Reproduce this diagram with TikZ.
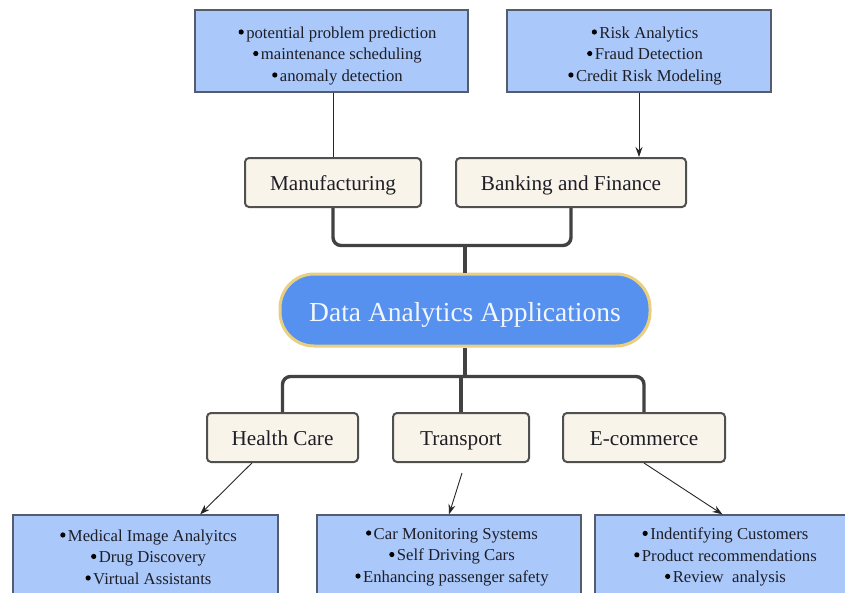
\documentclass[tikz,border=0pt]{standalone}
\usepackage{fontspec}
\setmainfont{Liberation Serif}
\usetikzlibrary{arrows.meta,calc}

\definecolor{listfill}{RGB}{170,201,250}
\definecolor{listedge}{RGB}{85,92,110}
\definecolor{catfill}{RGB}{249,244,233}
\definecolor{catedge}{RGB}{80,80,80}
\definecolor{hubfill}{RGB}{86,145,240}
\definecolor{hubedge}{RGB}{232,208,128}
\definecolor{trunk}{RGB}{66,66,66}
\definecolor{inktext}{RGB}{30,30,40}

% round list marker; \bulshift nudges each centred line to the right
\newlength\bulshift
\newcommand\bul{\kern\bulshift\tikz[x=1pt,y=1pt,baseline=0pt]\fill[black] (2.6,6.2) circle[radius=2.6];\kern2.5pt}
% extra head room above the first line of a list
\newcommand\headroom{\rule{0pt}{21pt}}

\tikzset{
  listbox/.style={draw=listedge, line width=1.2pt, fill=listfill, inner sep=0pt,
    align=center, text=inktext,
    font=\fontsize{16.7}{21.5}\selectfont},
  toplist/.style={listbox, minimum height=82pt,
    execute at begin node={\setlength\bulshift{12pt}}},
  lowlist/.style={listbox, minimum height=84pt,
    execute at begin node={\setlength\bulshift{6pt}}},
  catbox/.style={draw=catedge, line width=2pt, fill=catfill, rounded corners=4pt,
    inner sep=0pt, minimum height=49pt, text=inktext,
    text height=20pt, text depth=4pt,
    font=\fontsize{21.2}{25}\selectfont},
  hub/.style={draw=hubedge, line width=3pt, fill=hubfill, rounded corners=34pt,
    inner sep=0pt, minimum width=370pt, minimum height=72pt,
    text height=28pt, text depth=6pt,
    text={rgb,255:red,242;green,246;blue,255},
    font=\fontsize{27.5}{32}\selectfont},
  branch/.style={draw=trunk, line width=3.4pt, rounded corners=8pt},
  pointer/.style={draw=black!85, line width=0.9pt,
    -{Stealth[length=10pt,width=7pt]}},
}

\begin{document}
\begin{tikzpicture}[x=1pt,y=-1pt]
  \useasboundingbox (0,0) rectangle (845,592);
  \clip (0,0) rectangle (845,592);
  \fill[white] (0,0) rectangle (845,592);

  % central topic
  \node[hub] (hub) at (465,310) {Data Analytics Applications};

  % upper branch
  \node[catbox, minimum width=176pt] (manu) at (333,182.5) {Manufacturing};
  \node[catbox, minimum width=230pt] (bank) at (571,182.5) {Banking and Finance};

  \node[toplist, minimum width=273pt] (manulist) at (331.5,51)
    {\headroom\bul potential problem prediction\\ \bul maintenance scheduling\\ \bul anomaly detection};
  \node[toplist, minimum width=264pt] (banklist) at (639,51)
    {\headroom\bul Risk Analytics\\ \bul Fraud Detection\\ \bul Credit Risk Modeling};

  % lower branch
  \node[catbox, minimum width=151pt] (health) at (282.5,437.5) {Health Care};
  \node[catbox, minimum width=136pt] (trans) at (461,437.5) {Transport};
  \node[catbox, minimum width=162pt] (ecom) at (644,437.5) {E-commerce};

  \node[lowlist, minimum width=265pt] (healthlist) at (145.5,557)
    {\bul Medical Image Analyitcs\\ \bul Drug Discovery\\ \bul Virtual Assistants};
  \node[lowlist, minimum width=264pt] (translist) at (449,557)
    {\bul Car Monitoring Systems\\ \bul Self Driving Cars\\ \bul Enhancing passenger safety};
  \node[lowlist, minimum width=255pt] (ecomlist) at (722.5,557)
    {\bul Indentifying Customers\\ \bul Product recommendations\\ \bul Review~~analysis};

  % trunk lines above the hub
  \coordinate (upjoin) at ($(hub.north)+(0,-27)$);
  \draw[branch] (manu.south) -- (manu.south |- upjoin) -- (bank.south |- upjoin) -- (bank.south);
  \draw[branch] (hub.north) -- (upjoin);

  % trunk lines below the hub
  \coordinate (lowjoin) at ($(hub.south)+(0,29)$);
  \draw[branch] (health.north) -- (health.north |- lowjoin) -- (ecom.north |- lowjoin) -- (ecom.north);
  \draw[branch] (hub.south) -- (hub.south |- lowjoin);
  \draw[branch] (trans.north) -- (trans.north |- lowjoin);

  % links to the example lists
  \draw[draw=black!85, line width=0.9pt] (manulist.south -| manu.north) -- (manu.north);
  \draw[pointer] (banklist.south) -- (banklist.south |- bank.north);

  \coordinate (hcout) at ($(health.south west)!0.3!(health.south east)$);
  \coordinate (hcin) at ($(healthlist.north west)!0.705!(healthlist.north east)$);
  \draw[pointer] (hcout) -- (hcin);

  \coordinate (tpout) at ($(trans.south)+(1,10)$);
  \draw[pointer] (tpout) -- (translist.north);

  \draw[pointer] (ecom.south) -- (ecomlist.north);
\end{tikzpicture}
\end{document}
